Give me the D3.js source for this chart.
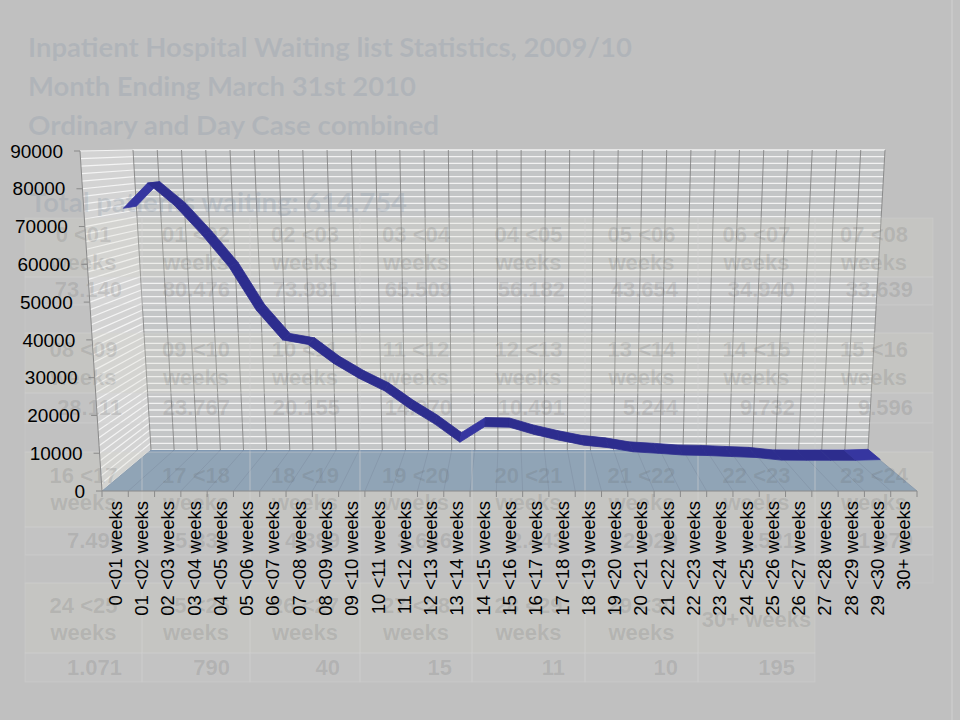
<!DOCTYPE html>
<html>
<head>
<meta charset="utf-8">
<script src="https://cdnjs.cloudflare.com/ajax/libs/d3/7.8.5/d3.min.js"></script>
<style>
body { margin: 0; background: #c0c0c0; }
svg { display: block; }
</style>
</head>
<body>
<svg id="chart" width="960" height="720"></svg>
<script>
// ---- data ----
const categories = [
    "0 <01 weeks", "01 <02 weeks", "02 <03 weeks", "03 <04 weeks", "04 <05 weeks", "05 <06 weeks",
    "06 <07 weeks", "07 <08 weeks", "08 <09 weeks", "09 <10 weeks", "10 <11 weeks", "11 <12 weeks",
    "12 <13 weeks", "13 <14 weeks", "14 <15 weeks", "15 <16 weeks", "16 <17 weeks", "17 <18 weeks",
    "18 <19 weeks", "19 <20 weeks", "20 <21 weeks", "21 <22 weeks", "22 <23 weeks", "23 <24 weeks",
    "24 <25 weeks", "25 <26 weeks", "26 <27 weeks", "27 <28 weeks", "28 <29 weeks", "29 <30 weeks",
    "30+ weeks"
];
const patients = [
    73140, 80476, 73981, 65509, 56182, 43654, 34940, 33639,
    28111, 23767, 20155, 14970, 10491, 5244, 9732, 9596,
    7496, 5835, 4389, 3646, 2443, 2029, 1521, 1379,
    1071, 790, 40, 15, 11, 10, 195
];
const yTicks = [0, 10000, 20000, 30000, 40000, 50000, 60000, 70000, 80000, 90000];
const titleLines = [
    "Inpatient Hospital Waiting list Statistics, 2009/10",
    "Month Ending March 31st 2010",
    "Ordinary and Day Case combined"
];
const totalText = "Total patients waiting: 614.754";

// ---- layout ----
const svg = d3.select("#chart");
const W = 960, H = 720;

// corners of the 3d box: back wall and front plane, at value 0 and at max
const back = { l0: [151, 450], r0: [868, 450], l1: [133, 150], r1: [885, 150] };
const front = { l0: [102, 491], r0: [917, 491], l1: [80, 151], r1: [939, 151] };

function lerp(a, b, t) { return [a[0] + (b[0] - a[0]) * t, a[1] + (b[1] - a[1]) * t]; }
function P(u, v, w) {
    const bl = lerp(back.l0, back.l1, v), br = lerp(back.r0, back.r1, v);
    const fl = lerp(front.l0, front.l1, v), fr = lerp(front.r0, front.r1, v);
    return lerp(lerp(bl, br, u), lerp(fl, fr, u), w);
}
const poly = pts => "M" + pts.map(p => p[0].toFixed(2) + "," + p[1].toFixed(2)).join("L") + "Z";

const y = d3.scaleLinear().domain([0, 90000]).range([0, 1]);
const xPoint = d3.scalePoint().domain(categories).range([0, 1]);
const xBand = d3.scaleBand().domain(categories).range([0, 1]);
const boundaries = d3.range(categories.length + 1).map(k => k / categories.length);
const minor = d3.range(0, 90001, 2000);

svg.append("rect").attr("width", W).attr("height", H).attr("fill", "#c0c0c0");
svg.append("rect").attr("x", 951).attr("y", 0).attr("width", 2).attr("height", H).attr("fill", "#c8c8c8");

// ---- walls ----
const walls = svg.append("g");

walls.append("path")
    .attr("d", poly([P(0, 0, 1), P(0, 1, 1), P(0, 1, 0), P(0, 0, 0)]))
    .attr("fill", "#d3d3d3");
walls.selectAll(".sideGrid").data(minor).join("line")
    .attr("class", "sideGrid")
    .attr("x1", d => P(0, y(d), 1)[0]).attr("y1", d => P(0, y(d), 1)[1])
    .attr("x2", d => P(0, y(d), 0)[0]).attr("y2", d => P(0, y(d), 0)[1])
    .attr("stroke", "#f4f4f4").attr("stroke-width", 1.2);

walls.append("path")
    .attr("d", poly([P(0, 0, 0), P(0, 1, 0), P(1, 1, 0), P(1, 0, 0)]))
    .attr("fill", "#c3c5c6");
walls.selectAll(".backGrid").data(minor).join("line")
    .attr("class", "backGrid")
    .attr("x1", d => P(0, y(d), 0)[0]).attr("y1", d => P(0, y(d), 0)[1])
    .attr("x2", d => P(1, y(d), 0)[0]).attr("y2", d => P(1, y(d), 0)[1])
    .attr("stroke", "#f2f2f2").attr("stroke-width", 1.3);
walls.selectAll(".backV").data(boundaries).join("line")
    .attr("class", "backV")
    .attr("x1", d => P(d, 0, 0)[0]).attr("y1", d => P(d, 0, 0)[1])
    .attr("x2", d => P(d, 1, 0)[0]).attr("y2", d => P(d, 1, 0)[1])
    .attr("stroke", "#7c7c7c").attr("stroke-width", 0.8);

// floor
walls.append("path")
    .attr("d", poly([P(0, 0, 0), P(1, 0, 0), P(1, 0, 1), P(0, 0, 1)]))
    .attr("fill", "#7e96b1");
walls.selectAll(".floorGrid").data(boundaries).join("line")
    .attr("class", "floorGrid")
    .attr("x1", d => P(d, 0, 0)[0]).attr("y1", d => P(d, 0, 0)[1])
    .attr("x2", d => P(d, 0, 1)[0]).attr("y2", d => P(d, 0, 1)[1])
    .attr("stroke", "#6e859f").attr("stroke-width", 0.8);

// ---- faded slide table and titles laid over the chart ----
const overlay = svg.append("g");
const colEdges = [25, 142, 250, 360, 472, 585, 698, 815, 933];
const groups = [
    { header: [218, 277], value: [277, 305], blank: [305, 333], base: [242, 270, 297] },
    { header: [333, 393], value: [393, 423], blank: [423, 452], base: [357, 385, 415] },
    { header: [452, 527], value: [527, 555], blank: [555, 583], base: [483, 510, 548] },
    { header: [583, 653], value: [653, 682], blank: null, base: [613, 640, 675] }
];
const fmt = d3.formatLocale({ decimal: ",", thousands: ".", grouping: [3], currency: ["", ""] }).format(",");

groups.forEach((g, gi) => {
    const cats = categories.slice(gi * 8, gi * 8 + 8);
    const vals = patients.slice(gi * 8, gi * 8 + 8);
    const cells = overlay.append("g");
    cats.forEach((c, ci) => {
        const x0 = colEdges[ci], x1 = colEdges[ci + 1];
        cells.append("rect").attr("x", x0).attr("y", g.header[0]).attr("width", x1 - x0).attr("height", g.header[1] - g.header[0])
            .attr("fill", "#dcdacb").attr("fill-opacity", 0.2).attr("stroke", "#d4d4d4").attr("stroke-opacity", 0.3);
        cells.append("rect").attr("x", x0).attr("y", g.value[0]).attr("width", x1 - x0).attr("height", g.value[1] - g.value[0])
            .attr("fill", "#ffffff").attr("fill-opacity", 0.05).attr("stroke", "#d4d4d4").attr("stroke-opacity", 0.3);
        if (g.blank) {
            cells.append("rect").attr("x", x0).attr("y", g.blank[0]).attr("width", x1 - x0).attr("height", g.blank[1] - g.blank[0])
                .attr("fill", "#ffffff").attr("fill-opacity", 0.02).attr("stroke", "#d4d4d4").attr("stroke-opacity", 0.2);
        }
        const cx = (x0 + x1) / 2;
        const parts = c.split(" weeks")[0];
        const txt = cells.append("g")
            .attr("font-family", "'Liberation Sans', Arial, sans-serif")
            .attr("font-weight", "bold").attr("font-size", 22)
            .attr("fill", "#5a5a5a").attr("fill-opacity", 0.16);
        if (c.startsWith("30+")) {
            txt.append("text").attr("x", cx).attr("y", g.base[0] + 14).attr("text-anchor", "middle").text(c);
        } else {
            txt.append("text").attr("x", cx).attr("y", g.base[0]).attr("text-anchor", "middle").text(parts);
            txt.append("text").attr("x", cx).attr("y", g.base[1]).attr("text-anchor", "middle").text("weeks");
        }
        txt.append("text").attr("x", x1 - 20).attr("y", g.base[2]).attr("text-anchor", "end").text(fmt(vals[ci]));
    });
});

const titles = overlay.append("g")
    .attr("font-family", "Lato, 'Open Sans', sans-serif")
    .attr("font-weight", "bold").attr("font-size", 26)
    .attr("fill", "#8a98a8").attr("fill-opacity", 0.28);
const titleWidths = [604, 388, 411];
titleLines.forEach((t, i) => {
    titles.append("text").attr("x", 28).attr("y", 57 + i * 39)
        .attr("textLength", titleWidths[i]).attr("lengthAdjust", "spacingAndGlyphs").text(t);
});
titles.append("text").attr("x", 30).attr("y", 212)
    .attr("textLength", 377).attr("lengthAdjust", "spacingAndGlyphs").text(totalText);

// ---- the ribbon line ----
const ribbon = svg.append("g");
const w0 = 0.0, w1 = 0.25;
const pts = categories.map((c, i) => ({ u: xPoint(c), v: y(patients[i]) }));
d3.pairs(pts).forEach(([a, b]) => {
    const up = b.v > a.v;
    ribbon.append("path")
        .attr("d", poly([P(a.u, a.v, w0), P(b.u, b.v, w0), P(b.u, b.v, w1), P(a.u, a.v, w1)]))
        .attr("fill", up ? "#3636a0" : "#2d2d8e")
        .attr("stroke", up ? "#3636a0" : "#2d2d8e").attr("stroke-width", 0.8).attr("stroke-linejoin", "round");
});

// ---- axes ----
const axes = svg.append("g").attr("font-family", "'Liberation Sans', Arial, sans-serif").attr("fill", "#000");

axes.append("line")
    .attr("x1", P(0, 0, 1)[0]).attr("y1", P(0, 0, 1)[1])
    .attr("x2", P(0, 1, 1)[0]).attr("y2", P(0, 1, 1)[1])
    .attr("stroke", "#8a8a8a").attr("stroke-width", 1);
axes.selectAll(".yTick").data(yTicks).join("line")
    .attr("class", "yTick")
    .attr("x1", d => P(0, y(d), 1)[0] - 6).attr("y1", d => P(0, y(d), 1)[1])
    .attr("x2", d => P(0, y(d), 1)[0]).attr("y2", d => P(0, y(d), 1)[1])
    .attr("stroke", "#8a8a8a");
axes.selectAll(".yLabel").data(yTicks).join("text")
    .attr("class", "yLabel")
    .attr("x", d => P(0, y(d), 1)[0] - 17).attr("y", d => P(0, y(d), 1)[1])
    .attr("dy", "0.35em").attr("text-anchor", "end").attr("font-size", 19)
    .text(d => d);

axes.append("line")
    .attr("x1", P(0, 0, 1)[0]).attr("y1", P(0, 0, 1)[1])
    .attr("x2", P(1, 0, 1)[0]).attr("y2", P(1, 0, 1)[1])
    .attr("stroke", "#8a8a8a");
axes.selectAll(".xTick").data(boundaries).join("line")
    .attr("class", "xTick")
    .attr("x1", d => P(d, 0, 1)[0]).attr("y1", d => P(d, 0, 1)[1])
    .attr("x2", d => P(d, 0, 1)[0]).attr("y2", d => P(d, 0, 1)[1] + 6)
    .attr("stroke", "#8a8a8a");
axes.selectAll(".xLabel").data(categories).join("text")
    .attr("class", "xLabel")
    .attr("transform", d => `translate(${P(xBand(d) + xBand.bandwidth() / 2, 0, 1)[0]},501) rotate(-90)`)
    .attr("dy", "0.35em").attr("text-anchor", "end").attr("font-size", 18.5)
    .text(d => d);
</script>
</body>
</html>
